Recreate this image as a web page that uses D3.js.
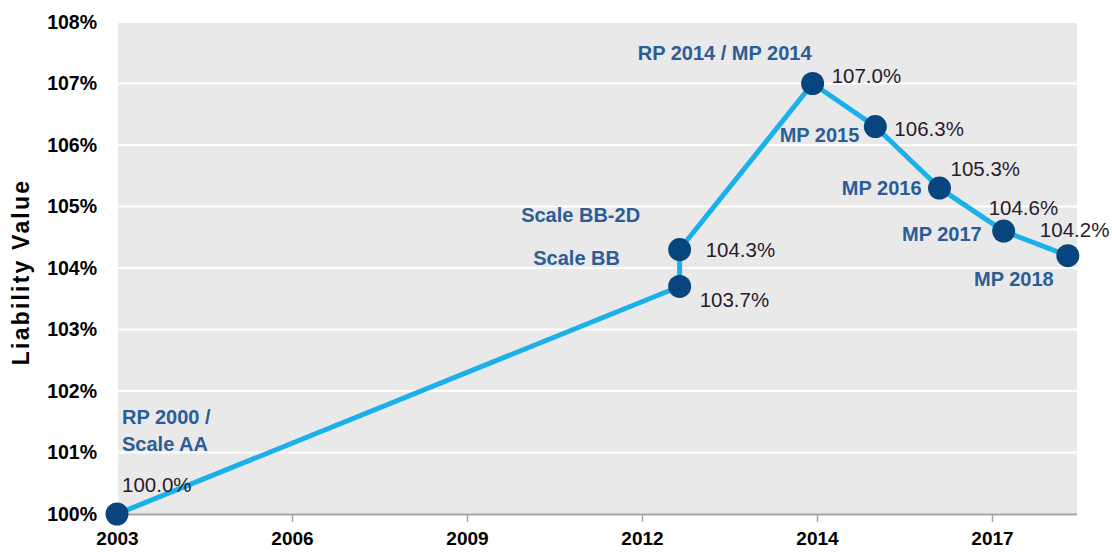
<!DOCTYPE html>
<html><head><meta charset="utf-8">
<script src="https://cdn.jsdelivr.net/npm/d3@7"></script>
<style>
body{margin:0;background:#fff;}
svg{display:block;font-family:"Liberation Sans",Arial,sans-serif;}
</style></head>
<body><svg id="c" width="1112" height="552"></svg>
<script>
// ---- data ----
const tickYears = [2003, 2006, 2009, 2012, 2014, 2017];
const tickLabels = ["2003", "2006", "2009", "2012", "2014", "2017"];
const yTicks = [100, 101, 102, 103, 104, 105, 106, 107, 108];
const pointNames = ["RP 2000 / Scale AA", "Scale BB", "Scale BB-2D", "RP 2014 / MP 2014", "MP 2015", "MP 2016", "MP 2017", "MP 2018"];
const pointYears = [2003, 2012.43, 2012.43, 2013.95, 2015.0, 2016.1, 2017.2, 2018.3];
const pointValues = [100.0, 103.7, 104.3, 107.0, 106.3, 105.3, 104.6, 104.2];
const valueLabels = ["100.0%", "103.7%", "104.3%", "107.0%", "106.3%", "105.3%", "104.6%", "104.2%"];

const svg = d3.select("#c");
const L = 118, R = 1077, T = 22, B = 514;
const step = 175;
const x = d3.scaleLinear()
  .domain(tickYears.concat([2020]))
  .range(tickYears.concat([2020]).map((d, i) => 117 + i * step));
const y = d3.scaleLinear().domain([100, 108]).range([514, 22]);

// plot background
svg.append("rect").attr("x", L).attr("y", T).attr("width", R - L).attr("height", B - T).attr("fill", "#e9e9e9");

// gridlines
svg.append("g").selectAll("line").data(yTicks.slice(1)).join("line")
  .attr("x1", L).attr("x2", R)
  .attr("y1", d => y(d)).attr("y2", d => y(d))
  .attr("stroke", "#fff").attr("stroke-width", 2);

// y axis labels
const yAxis = d3.axisLeft(y).tickValues(yTicks).tickFormat(d => d + "%").tickSize(0).tickPadding(0);
const gy = svg.append("g").attr("transform", "translate(97,0)").call(yAxis);
gy.select(".domain").remove();
gy.selectAll("text").attr("font-size", 19.5).attr("font-weight", "bold").attr("fill", "#000")
  .attr("font-family", "Liberation Sans, Arial, sans-serif");

// x axis
const xAxis = d3.axisBottom(x).tickValues(tickYears).tickFormat((d, i) => tickLabels[i]).tickSize(8).tickPadding(10).tickSizeOuter(0);
const gx = svg.append("g").attr("transform", `translate(0,${B})`).call(xAxis);
gx.select(".domain").attr("d", `M${L},0.5H${R}`).attr("stroke", "#a6a6a6").attr("stroke-width", 2);
gx.selectAll(".tick line").attr("stroke", "#a6a6a6").attr("stroke-width", 1.5);
gx.selectAll("text").attr("font-size", 19).attr("font-weight", "bold").attr("fill", "#000")
  .attr("font-family", "Liberation Sans, Arial, sans-serif");

// y title
svg.append("text").attr("transform", "translate(29,272) rotate(-90)")
  .attr("text-anchor", "middle").attr("font-size", 23).attr("font-weight", "bold").attr("fill", "#000")
  .attr("letter-spacing", 2.2)
  .text("Liability Value");

// line
const pts = pointYears.map((yr, i) => [x(yr), y(pointValues[i])]);
svg.append("path").attr("d", d3.line()(pts))
  .attr("fill", "none").attr("stroke", "#1bb0ea").attr("stroke-width", 5).attr("stroke-linejoin", "round");

// points
svg.append("g").selectAll("circle").data(pts).join("circle")
  .attr("cx", d => d[0]).attr("cy", d => d[1]).attr("r", 11.5).attr("fill", "#08457f");

// labels (offsets relative to each point)
const nameOff = [[5, -97, "start"], [-103, -28, "middle"], [-99, -35, "middle"], [-88, -31, "middle"], [-16, 8, "end"], [-18, 0, "end"], [-22, 3, "end"], [-54, 23, "middle"]];
const valOff = [[5, -30, "start"], [20, 13, "start"], [26, 0, "start"], [19, -8, "start"], [19, 2, "start"], [11, -20, "start"], [-15, -24, "start"], [-28, -26, "start"]];

pointNames.forEach((n, i) => {
  const [px, py] = pts[i];
  const [dx, dy, anc] = nameOff[i];
  const t = svg.append("text").attr("x", px + dx).attr("y", py + dy).attr("text-anchor", anc)
    .attr("font-size", 20).attr("font-weight", "bold").attr("fill", "#2b5d96").attr("dominant-baseline", "central");
  if (i === 0) {
    t.append("tspan").attr("x", px + dx).attr("dy", 0).text("RP 2000 /");
    t.append("tspan").attr("x", px + dx).attr("dy", 27).text("Scale AA");
  } else t.text(n);
  const [vx, vy, va] = valOff[i];
  svg.append("text").attr("x", px + vx).attr("y", py + vy).attr("text-anchor", va)
    .attr("font-size", 20.5).attr("fill", "#2a1a2e").attr("dominant-baseline", "central").text(valueLabels[i]);
});
</script></body></html>
